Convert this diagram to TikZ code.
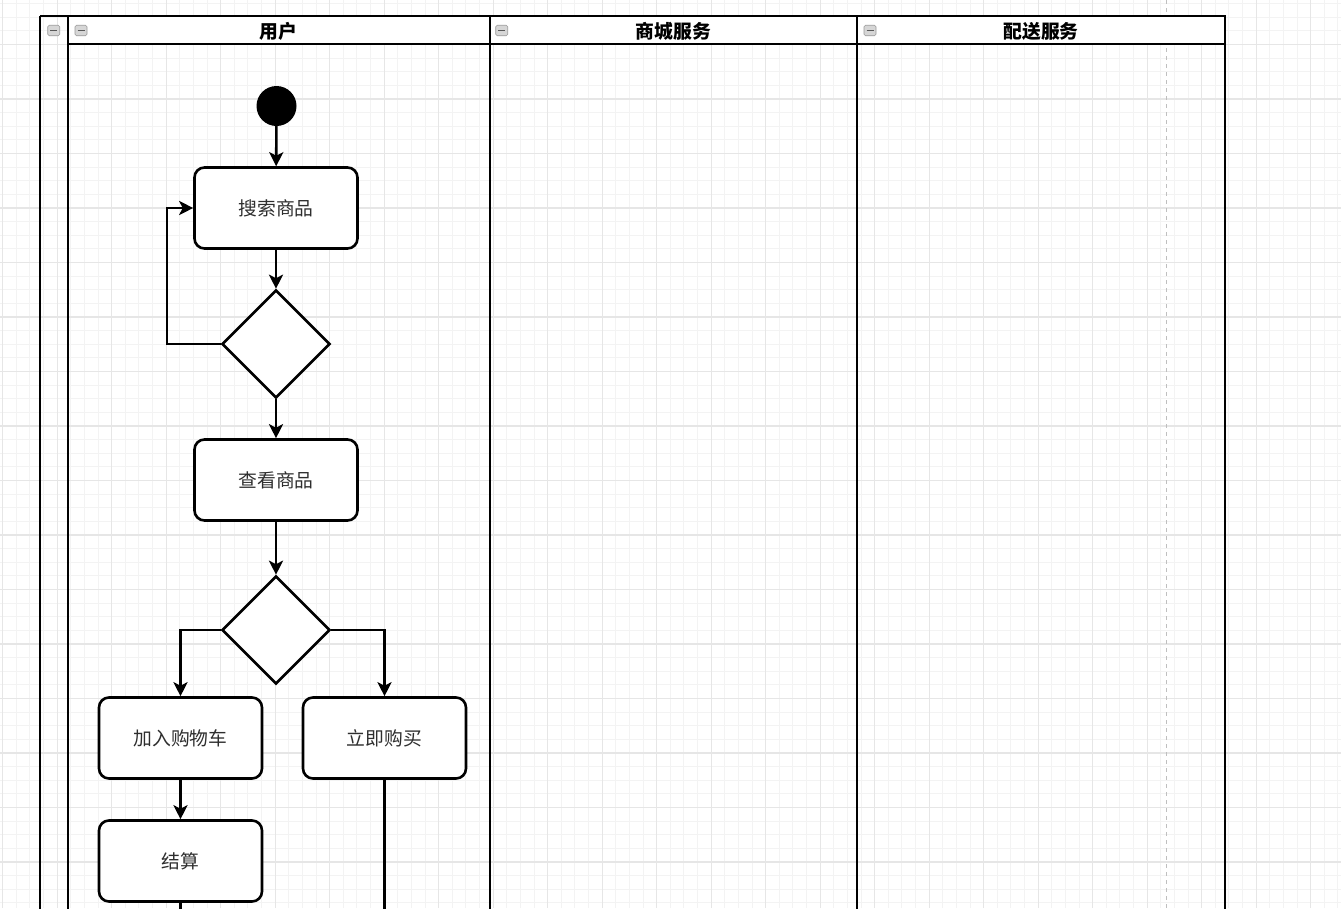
\documentclass[tikz,border=0pt]{standalone}
\usepackage{fontspec}
\newfontfamily\cjk{Noto Sans CJK SC}
\usetikzlibrary{shapes.geometric,arrows.meta}
\definecolor{minorgrid}{HTML}{F3F3F3}
\definecolor{majorgrid}{HTML}{E6E6E6}
\definecolor{boxtext}{HTML}{2E2E2E}
\definecolor{iconfill}{HTML}{D6D6D6}
\definecolor{iconline}{HTML}{9A9A9A}
\begin{document}
\begin{tikzpicture}[x=1pt,y=-1pt,
  minorline/.style={draw=minorgrid, line width=1pt},
  majorline/.style={draw=majorgrid, line width=1.4pt},
  poolline/.style={draw=black, line width=2.6pt},
  act/.style={draw, rectangle, line width=2.6pt, rounded corners=10pt, minimum width=163pt, minimum height=81pt, fill=white, inner sep=0pt, text=boxtext, font=\cjk\fontsize{18.8}{22}\selectfont},
  dec/.style={draw, diamond, line width=2.6pt, minimum width=108pt, minimum height=108pt, inner sep=0pt, fill=white},
  startnode/.style={circle, fill=black, minimum size=40pt, inner sep=0pt},
  flow/.style={line width=2.6pt, -{Stealth[length=14pt,width=14pt,inset=3.5pt]}},
  plainflow/.style={line width=2.6pt},
  hdr/.style={font=\cjk\bfseries\fontsize{18.8}{22}\selectfont, text=black},
  icon/.style={draw=iconline, fill=iconfill, rounded corners=1.5pt, minimum width=12pt, minimum height=10.5pt, inner sep=0pt, line width=0.6pt,
    path picture={\draw[line width=1.4pt, draw=black!65] ([xshift=2.5pt]path picture bounding box.west) -- ([xshift=-2.5pt]path picture bounding box.east);}}
]
\useasboundingbox (0,0) rectangle (1341,908);
\fill[white] (0,0) rectangle (1341,908);
% grid
\foreach \x in {-10.925,2.7,...,1345} \draw[minorline] (\x,0) -- (\x,908);
\foreach \y in {-10,3.625,...,912} \draw[minorline] (0,\y) -- (1341,\y);
\foreach \x in {2.7,57.2,...,1345} \draw[majorline] (\x,0) -- (\x,908);
\foreach \y in {-10,44.5,...,912} \draw[majorline] (0,\y) -- (1341,\y);
% page break line
\draw[draw=black!25, line width=1pt, dash pattern=on 4pt off 4pt] (1166,0) -- (1166,908);
% pool
\fill[white] (68,16) rectangle (1225,44);
\draw[poolline] (40,16) -- (1225,16) -- (1225,930);
\draw[poolline] (40,16) -- (40,930);
\draw[poolline] (68,16) -- (68,930);
\draw[poolline] (490,16) -- (490,930);
\draw[poolline] (857,16) -- (857,930);
\draw[poolline] (68,44) -- (1225,44);
% headers
\node[hdr] (h1) at (278.5,31) {用户};
\node[hdr] (h2) at (673.5,31) {商城服务};
\node[hdr] (h3) at (1041,31) {配送服务};
\node[icon] (i0) at (53.7,30.5) {};
\node[icon] (i1) at (81,30.5) {};
\node[icon] (i2) at (501.7,30.5) {};
\node[icon] (i3) at (870,30.5) {};
% nodes
\node[startnode] (start) at (276.5,106) {};
\node[act] (search) at (276,208) {搜索商品};
\node[dec] (d1) at (276,344) {};
\node[act] (view) at (276,480) {查看商品};
\node[dec] (d2) at (276,630) {};
\node[act] (cart) at (180.5,738) {加入购物车};
\node[act] (buy) at (384.5,738) {立即购买};
\node[act] (pay) at (180.5,861) {结算};
\coordinate (loop) at (167,344);
\coordinate (e1) at (180.5,920);
\coordinate (e2) at (384.5,920);
% connectors
\draw[flow] (start) -- (search);
\draw[flow] (search) -- (d1);
\draw[flow] (d1.west) -- (loop) |- (search.west);
\draw[flow] (d1) -- (view);
\draw[flow] (view) -- (d2);
\draw[flow] (d2.west) -| (cart.north);
\draw[flow] (d2.east) -| (buy.north);
\draw[flow] (cart) -- (pay);
\draw[plainflow] (pay.south) -- (e1);
\draw[plainflow] (buy.south) -- (e2);
\end{tikzpicture}
\end{document}
